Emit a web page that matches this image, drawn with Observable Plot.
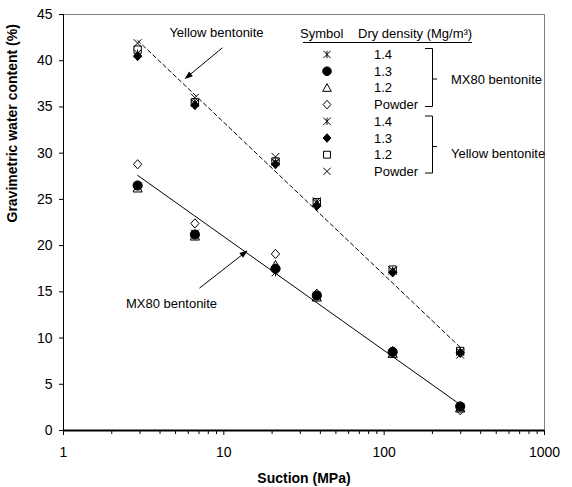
<!DOCTYPE html>
<html><head><meta charset="utf-8">
<script src="https://cdn.jsdelivr.net/npm/d3@7"></script>
<script src="https://cdn.jsdelivr.net/npm/@observablehq/plot@0.6"></script>
<style>
body{margin:0;background:#fff;font-family:"Liberation Sans",Arial,sans-serif;}
#chart{position:relative;width:572px;height:487px;}
</style></head><body><div id="chart"></div>
<script>
// ---- data ----
const suction = [2.9, 6.6, 21, 38, 113, 298];
const mx80_14 = [26.4, 21.3, 17.1, 14.6, 8.4, 2.5];
const mx80_13 = [26.5, 21.2, 17.5, 14.6, 8.5, 2.6];
const mx80_12 = [26.2, 21.0, 17.9, 14.4, 8.3, 2.4];
const mx80_pw = [28.8, 22.4, 19.1, 14.8, 8.6, 2.2];
const yb_14 = [40.8, 35.4, 29.0, 24.6, 17.3, 8.5];
const yb_13 = [40.5, 35.2, 28.8, 24.3, 17.1, 8.4];
const yb_12 = [41.2, 35.5, 29.1, 24.7, 17.4, 8.6];
const yb_pw = [41.9, 36.0, 29.6, 24.8, 17.3, 8.2];
const densities = ["1.4", "1.3", "1.2", "Powder"];
const materials = ["MX80 bentonite", "Yellow bentonite"];
const mx80FitX = [2.9, 298], mx80FitY = [27.6, 2.8];
const ybFitX = [2.9, 298], ybFitY = [42.2, 9.0];
const xTicks = [1, 10, 100, 1000];
const xMinor = [2,3,4,5,6,7,8,9,20,30,40,50,60,70,80,90,200,300,400,500,600,700,800,900];
const yTicks = [0, 5, 10, 15, 20, 25, 30, 35, 40, 45];
const annotLabels = ["Yellow bentonite", "MX80 bentonite"];
const annotX = [9.0, 4.72], annotY = [43.0, 13.7];
const arrowFrom = [[9.8, 41.4], [7.05, 15.4]];
const arrowTo = [[5.77, 38.1], [13.9, 19.4]];

// ---- symbols ----
const R = 4.6;
function sym(fn){ return {draw(ctx, size){ const r = Math.sqrt(size/Math.PI); fn(ctx, r); }}; }
const star = sym((c,r)=>{const h=0.85*r; c.moveTo(-h,-h);c.lineTo(h,h);c.moveTo(h,-h);c.lineTo(-h,h);c.moveTo(0,-h);c.lineTo(0,h);});
const circ = sym((c,r)=>{c.moveTo(r,0);c.arc(0,0,r,0,2*Math.PI);});
const tri = sym((c,r)=>{c.moveTo(0,-r);c.lineTo(r,0.8*r);c.lineTo(-r,0.8*r);c.closePath();});
const diam = sym((c,r)=>{c.moveTo(0,-r);c.lineTo(r*0.9,0);c.lineTo(0,r);c.lineTo(-r*0.9,0);c.closePath();});
const sq = sym((c,r)=>{const h=0.8*r; c.rect(-h,-h,2*h,2*h);});
const times = sym((c,r)=>{const h=0.85*r; c.moveTo(-h,-h);c.lineTo(h,h);c.moveTo(h,-h);c.lineTo(-h,h);});

const series = [
  {values: mx80_14, symbol: star, filled: false},
  {values: mx80_13, symbol: circ, filled: true},
  {values: mx80_12, symbol: tri, filled: false},
  {values: mx80_pw, symbol: diam, filled: false},
  {values: yb_14, symbol: star, filled: false},
  {values: yb_13, symbol: diam, filled: true},
  {values: yb_12, symbol: sq, filled: false},
  {values: yb_pw, symbol: times, filled: false}
];

const dotMarks = series.map(s => Plot.dot(suction.map((x,i)=>({x, y: s.values[i]})), {
  x: "x", y: "y", symbol: s.symbol, r: R,
  fill: s.filled ? "black" : "none", stroke: "black", strokeWidth: 1
}));

const fitMx = mx80FitX.map((x,i)=>({x, y: mx80FitY[i]}));
const fitYb = ybFitX.map((x,i)=>({x, y: ybFitY[i]}));
const annots = annotLabels.map((t,i)=>({t, x: annotX[i], y: annotY[i]}));
const arrows = arrowFrom.map((a,i)=>({x1:a[0], y1:a[1], x2: arrowTo[i][0], y2: arrowTo[i][1]}));

const FONT = "Liberation Sans, Arial, sans-serif";
const plot = Plot.plot({
  width: 572, height: 487,
  marginLeft: 63, marginRight: 28, marginTop: 14, marginBottom: 57,
  style: {fontFamily: FONT, background: "white", overflow: "visible"},
  x: {type: "log", domain: [1, 1000]},
  y: {domain: [0, 45]},
  marks: [
    Plot.ruleY([45], {stroke: "#808080", strokeWidth: 1}),
    Plot.ruleX([1000], {stroke: "#808080", strokeWidth: 1}),
    Plot.axisY({ticks: yTicks, tickSize: 4, tickPadding: 7, fontSize: 14, label: null, tickFormat: d => String(d), stroke: "black"}),
    Plot.axisX({ticks: xTicks, tickSize: 5, tickPadding: 12, fontSize: 14, label: null, tickFormat: d => String(d), stroke: "black"}),
    Plot.axisX({ticks: xMinor, tickSize: 4, label: null, tickFormat: () => "", stroke: "black"}),
    Plot.ruleX([1], {stroke: "black", strokeWidth: 1}),
    Plot.ruleY([0], {stroke: "black", strokeWidth: 2}),
    Plot.line(fitMx, {x: "x", y: "y", stroke: "black", strokeWidth: 1}),
    Plot.line(fitYb, {x: "x", y: "y", stroke: "black", strokeWidth: 1, strokeDasharray: "4,3"}),
    ...dotMarks,
    Plot.text(annots, {x: "x", y: "y", text: "t", fontSize: 13, fill: "black"}),
    Plot.link(arrows, {x1: "x1", y1: "y1", x2: "x2", y2: "y2", stroke: "black", strokeWidth: 1, markerEnd: "arrow"}),
    Plot.text(["Suction (MPa)"], {frameAnchor: "bottom", dy: 52, fontSize: 14, fontWeight: "bold", fill: "black"}),
    Plot.text(["Gravimetric water content (%)"], {frameAnchor: "left", dx: -51, rotate: -90, fontSize: 14, fontWeight: "bold", fill: "black"})
  ]
});

// filled arrowheads
plot.querySelectorAll("marker").forEach(m => {
  m.setAttribute("viewBox", "-8 -4 10 8");
  m.setAttribute("markerWidth", "10");
  m.setAttribute("markerHeight", "8");
  m.setAttribute("fill", "black");
  m.setAttribute("stroke", "none");
  m.innerHTML = '<path d="M-7,-3L1,0L-7,3Z"></path>';
});

// legend
const svg = d3.select(plot);
const g = svg.append("g").attr("font-family", FONT).attr("font-size", 13).attr("text-anchor", "start").attr("fill", "black");
g.append("text").attr("x", 300).attr("y", 33).attr("dy", "0.35em").text("Symbol");
g.append("text").attr("x", 358).attr("y", 33).attr("dy", "0.35em").text("Dry density (Mg/m³)");
g.append("line").attr("x1", 303).attr("x2", 472).attr("y1", 42.5).attr("y2", 42.5).attr("stroke", "black");
series.forEach((s, i) => {
  const y = 54.5 + i * 16.7;
  g.append("path").attr("transform", `translate(327,${y})`)
    .attr("d", d3.symbol(s.symbol, Math.PI * 4.3 * 4.3)())
    .attr("fill", s.filled ? "black" : "none").attr("stroke", "black");
  g.append("text").attr("x", 374).attr("y", y).attr("dy", "0.35em").text(densities[i % 4]);
});
g.append("path").attr("d", "M425,48.5H432.5V106.5H425M432.5,79H437").attr("fill", "none").attr("stroke", "black");
g.append("path").attr("d", "M425,116H432.5V173H425M432.5,146.5H437").attr("fill", "none").attr("stroke", "black");
g.append("text").attr("x", 451).attr("y", 79).attr("dy", "0.35em").text(materials[0]);
g.append("text").attr("x", 451).attr("y", 153).attr("dy", "0.35em").text(materials[1]);

document.getElementById("chart").appendChild(plot);
</script></body></html>
